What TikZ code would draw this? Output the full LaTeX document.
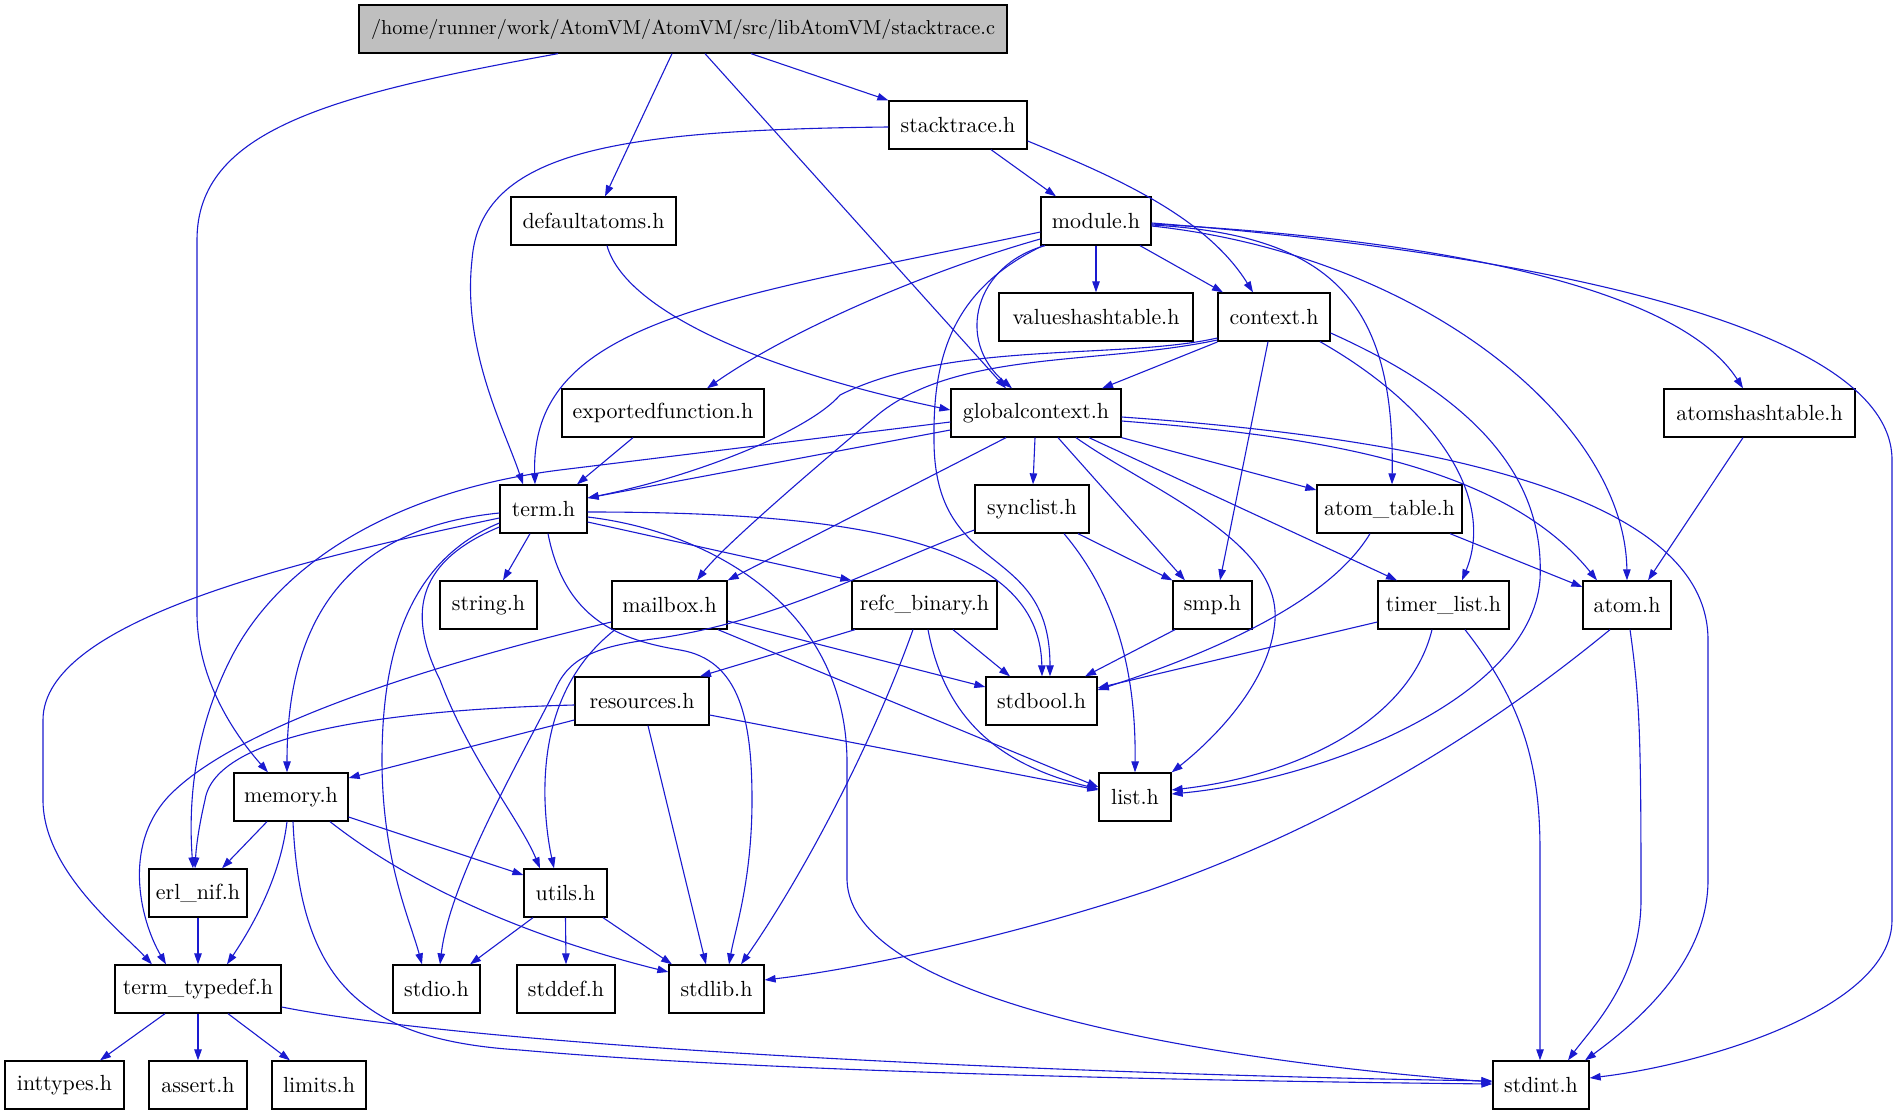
\documentclass[tikz,border=0pt]{standalone}
\usepackage{fontspec}
\setmainfont{lmroman10-regular.otf}
\usetikzlibrary{arrows.meta}
\definecolor{eb}{RGB}{26,26,208}
\definecolor{topfill}{RGB}{191,191,191}
\begin{document}
\begin{tikzpicture}[x=1pt,y=-1pt,
  box/.style={draw=black,line width=1.3pt,fill=white,minimum height=48pt,inner xsep=0pt,inner ysep=0pt,font=\fontsize{21.9pt}{26pt}\selectfont},
  edg/.style={draw=eb,line width=1.1pt,-{Triangle[length=11pt,width=7.5pt]}}]
\useasboundingbox (0,0) rectangle (1898,1115);
% nodes
\node[box,fill=topfill,minimum width=648pt,font=\fontsize{20.2pt}{24pt}\selectfont] (c) at (683,29) {/home/runner/work/AtomVM/AtomVM/src/libAtomVM/stacktrace.c};
\node[box,minimum width=138pt] (sth) at (958,125) {stacktrace.h};
\node[box,minimum width=165pt] (defa) at (593.5,221) {defaultatoms.h};
\node[box,minimum width=110pt] (module) at (1096,221) {module.h};
\node[box,minimum width=194pt] (vht) at (1096,317) {valueshashtable.h};
\node[box,minimum width=112pt] (context) at (1274,317) {context.h};
\node[box,minimum width=202pt] (expf) at (663,413) {exportedfunction.h};
\node[box,minimum width=170pt] (gc) at (1036,413) {globalcontext.h};
\node[box,minimum width=191pt] (ahs) at (1759.5,413) {atomshashtable.h};
\node[box,minimum width=87pt] (term) at (543.5,509) {term.h};
\node[box,minimum width=114pt] (synclist) at (1032,509) {synclist.h};
\node[box,minimum width=145pt] (atab) at (1389.5,509) {atom\_table.h};
\node[box,minimum width=97pt] (string) at (488.5,605) {string.h};
\node[box,minimum width=115pt] (mailbox) at (669.5,605) {mailbox.h};
\node[box,minimum width=145pt] (refc) at (924.5,605) {refc\_binary.h};
\node[box,minimum width=79pt] (smp) at (1212.5,605) {smp.h};
\node[box,minimum width=131pt] (timer) at (1443.5,605) {timer\_list.h};
\node[box,minimum width=88pt] (atom) at (1627,605) {atom.h};
\node[box,minimum width=134pt] (resources) at (642,701) {resources.h};
\node[box,minimum width=111pt] (stdbool) at (1041.5,701) {stdbool.h};
\node[box,minimum width=114pt] (memory) at (291,797) {memory.h};
\node[box,minimum width=72pt] (list) at (1135,797) {list.h};
\node[box,minimum width=98pt] (erlnif) at (198,893) {erl\_nif.h};
\node[box,minimum width=83pt] (utils) at (565.5,893) {utils.h};
\node[box,minimum width=166pt] (tt) at (198,989) {term\_typedef.h};
\node[box,minimum width=87pt] (stdio) at (436.5,989) {stdio.h};
\node[box,minimum width=98pt] (stddef) at (566,989) {stddef.h};
\node[box,minimum width=95pt] (stdlib) at (716.5,989) {stdlib.h};
\node[box,minimum width=119pt] (inttypes) at (64.5,1085) {inttypes.h};
\node[box,minimum width=98pt] (assert) at (198,1085) {assert.h};
\node[box,minimum width=94pt] (limits) at (319,1085) {limits.h};
\node[box,minimum width=96pt] (stdint) at (1541,1085) {stdint.h};
% edges from stacktrace.c
\draw[edg] (c.south -| 558,0) .. controls (330,95) and (197,130) .. (197,240) -- (197,613) .. controls (197,680) and (235,735) .. (memory.north -| 268,0);
\draw[edg] (c.south -| 672,0) -- (defa.north -| 605,0);
\draw[edg] (c.south -| 705,0) -- (gc.north -| 1006,0);
\draw[edg] (c.south -| 751,0) -- (sth.north west);
% stacktrace.h
\draw[edg] (sth.west |- 0,127) .. controls (620,130) and (480,150) .. (472,260) .. controls (462,350) and (505,430) .. (term.north -| 523,0);
\draw[edg] (sth.south -| 991,0) -- (module.north -| 1056,0);
\draw[edg] (sth.east |- 0,141) .. controls (1110,175) and (1205,215) .. (context.north -| 1253,0);
% defaultatoms.h
\draw[edg] (defa.south -| 607,0) .. controls (625,310) and (760,370) .. (gc.west |- 0,410);
% module.h
\draw[edg] (module.west |- 0,232) .. controls (720,300) and (530,320) .. (term.north -| 535,0);
\draw[edg] (module.west |- 0,239) .. controls (930,270) and (790,330) .. (expf.north -| 707,0);
\draw[edg] (module.south -| 1045,0) .. controls (975,265) and (955,340) .. (gc.north -| 1012,0);
\draw[edg] (module.south -| 1043,0) .. controls (950,290) and (933,360) .. (934,440) .. controls (934,580) and (1050,540) .. (stdbool.north -| 1050,0);
\draw[edg] (module.south) -- (vht.north);
\draw[edg] (module.south -| 1140,0) -- (context.north -| 1223,0);
\draw[edg] (module.east |- 0,225) .. controls (1330,235) and (1395,300) .. (atab.north -| 1392,0);
\draw[edg] (module.east |- 0,226) .. controls (1420,255) and (1625,420) .. (atom.north -| 1627,0);
\draw[edg] (module.east |- 0,224) .. controls (1450,240) and (1680,290) .. (ahs.north -| 1743,0);
\draw[edg] (module.east |- 0,223) .. controls (1500,250) and (1892,320) .. (1892,460) -- (1892,920) .. controls (1892,1010) and (1700,1065) .. (stdint.east |- 0,1078);
% context.h
\draw[edg] (context.west |- 0,342) -- (gc.north -| 1102,0);
\draw[edg] (context.west |- 0,338) .. controls (1120,360) and (950,340) .. (840,395) .. controls (810,430) and (700,475) .. (term.east |- 0,498);
\draw[edg] (context.west |- 0,340) .. controls (1100,365) and (960,350) .. (880,413) .. controls (800,480) and (720,550) .. (mailbox.north -| 697,0);
\draw[edg] (context.south -| 1268,0) -- (smp.north -| 1220,0);
\draw[edg] (context.east |- 0,333) .. controls (1480,400) and (1545,480) .. (1540,580) .. controls (1530,700) and (1320,780) .. (list.east |- 0,794);
\draw[edg] (context.south -| 1320,0) .. controls (1440,410) and (1495,500) .. (timer.north -| 1462,0);
% exportedfunction.h
\draw[edg] (expf.south -| 633,0) -- (term.north -| 577,0);
% globalcontext.h
\draw[edg] (gc.west |- 0,430) -- (term.east |- 0,498);
\draw[edg] (gc.west |- 0,422) -- (560,470) .. controls (400,490) and (280,560) .. (230,660) .. controls (195,730) and (188,800) .. (erlnif.north -| 193,0);
\draw[edg] (gc.south -| 1006,0) -- (mailbox.north east);
\draw[edg] (gc.south -| 1035,0) -- (synclist.north -| 1033,0);
\draw[edg] (gc.south -| 1058,0) -- (smp.north -| 1185,0);
\draw[edg] (gc.south -| 1076,0) .. controls (1150,490) and (1280,540) .. (1275,620) .. controls (1270,690) and (1200,750) .. (list.north east);
\draw[edg] (gc.south -| 1089,0) -- (timer.north -| 1397,0);
\draw[edg] (gc.south east) -- (atab.west |- 0,490);
\draw[edg] (gc.east |- 0,421) .. controls (1300,435) and (1500,460) .. (atom.north -| 1597,0);
\draw[edg] (gc.east |- 0,417) .. controls (1450,440) and (1708,500) .. (1708,640) -- (1708,880) .. controls (1708,960) and (1640,1020) .. (stdint.north -| 1585,0);
% atomshashtable.h
\draw[edg] (ahs.south -| 1743,0) -- (atom.north -| 1648,0);
% term.h
\draw[edg] (term.south -| 530,0) -- (string.north -| 503,0);
\draw[edg] (term.east |- 0,522) -- (refc.north west);
\draw[edg] (term.east |- 0,512) .. controls (850,512) and (1040,540) .. (stdbool.north -| 1042,0);
\draw[edg] (term.east |- 0,517) .. controls (700,530) and (845,600) .. (847,760) -- (847,880) .. controls (850,1000) and (1200,1060) .. (stdint.west |- 0,1082);
\draw[edg] (term.south -| 548,0) .. controls (565,620) and (620,640) .. (680,650) .. controls (740,660) and (752,720) .. (752,800) .. controls (752,880) and (735,930) .. (stdlib.north -| 729,0);
\draw[edg] (term.west |- 0,527) .. controls (420,560) and (405,610) .. (440,680) .. controls (470,760) and (520,820) .. (utils.north -| 540,0);
\draw[edg] (term.west |- 0,523) .. controls (410,560) and (382,650) .. (382,760) .. controls (382,860) and (410,920) .. (stdio.north -| 422,0);
\draw[edg] (term.west |- 0,513) .. controls (330,530) and (287,640) .. (memory.north -| 287,0);
\draw[edg] (term.west |- 0,518) .. controls (300,560) and (43,620) .. (43,720) -- (43,800) .. controls (43,870) and (120,930) .. (tt.north -| 152,0);
% synclist.h
\draw[edg] (synclist.west |- 0,530) .. controls (880,565) and (780,620) .. (660,638) .. controls (600,646) and (570,655) .. (555,690) .. controls (520,760) and (450,880) .. (stdio.north -| 440,0);
\draw[edg] (synclist.south -| 1078,0) -- (smp.north west);
\draw[edg] (synclist.south -| 1064,0) .. controls (1120,600) and (1136,680) .. (list.north);
% atom_table.h
\draw[edg] (atab.south -| 1370,0) .. controls (1330,600) and (1220,650) .. (stdbool.east |- 0,690);
\draw[edg] (atab.south -| 1450,0) -- (atom.west |- 0,587);
% mailbox.h
\draw[edg] (mailbox.west |- 0,622) .. controls (450,660) and (250,720) .. (175,790) .. controls (120,840) and (140,920) .. (tt.north -| 166,0);
\draw[edg] (mailbox.south -| 615,0) .. controls (570,665) and (543,720) .. (545,800) .. controls (546,830) and (550,850) .. (utils.north -| 554,0);
\draw[edg] (mailbox.east |- 0,621) -- (stdbool.west |- 0,687);
\draw[edg] (mailbox.south -| 718,0) -- (list.west |- 0,787);
% refc_binary.h
\draw[edg] (refc.south -| 855,0) -- (resources.north -| 700,0);
\draw[edg] (refc.south -| 953,0) -- (stdbool.north -| 1010,0);
\draw[edg] (refc.south -| 928,0) .. controls (945,720) and (1000,765) .. (list.west |- 0,789);
\draw[edg] (refc.south -| 913,0) .. controls (870,750) and (800,880) .. (stdlib.north -| 741,0);
% smp.h
\draw[edg] (smp.south -| 1175,0) -- (stdbool.north -| 1085,0);
% timer_list.h
\draw[edg] (timer.west |- 0,622) -- (stdbool.east |- 0,688);
\draw[edg] (timer.south -| 1432,0) .. controls (1410,720) and (1300,775) .. (list.east |- 0,790);
\draw[edg] (timer.south -| 1465,0) .. controls (1520,700) and (1540,760) .. (1540,850) -- (stdint.north -| 1540,0);
% atom.h
\draw[edg] (atom.south -| 1630,0) .. controls (1640,700) and (1641,740) .. (1641,900) .. controls (1641,980) and (1590,1030) .. (stdint.north -| 1568,0);
\draw[edg] (atom.south -| 1610,0) .. controls (1500,720) and (1350,820) .. (1150,890) .. controls (1000,940) and (850,970) .. (stdlib.east |- 0,980);
% resources.h
\draw[edg] (resources.west |- 0,705) .. controls (380,710) and (215,735) .. (205,800) .. controls (198,830) and (196,850) .. (erlnif.north -| 195,0);
\draw[edg] (resources.west |- 0,720) -- (memory.east |- 0,778);
\draw[edg] (resources.east |- 0,715) -- (list.west |- 0,790);
\draw[edg] (resources.south -| 648,0) -- (stdlib.north -| 706,0);
% memory.h
\draw[edg] (memory.south -| 267,0) -- (erlnif.north -| 222,0);
\draw[edg] (memory.south -| 287,0) .. controls (280,880) and (250,930) .. (tt.north -| 227,0);
\draw[edg] (memory.east |- 0,817) -- (utils.west |- 0,875);
\draw[edg] (memory.south -| 330,0) .. controls (430,900) and (560,945) .. (stdlib.west |- 0,972);
\draw[edg] (memory.south -| 293,0) .. controls (300,980) and (360,1040) .. (520,1050) .. controls (800,1075) and (1300,1082) .. (stdint.west |- 0,1084);
% erl_nif.h
\draw[edg] (erlnif.south) -- (tt.north);
% utils.h
\draw[edg] (utils.south -| 533,0) -- (stdio.north -| 470,0);
\draw[edg] (utils.south) -- (stddef.north);
\draw[edg] (utils.south -| 603,0) -- (stdlib.north -| 672,0);
% term_typedef.h
\draw[edg] (tt.south -| 165,0) -- (inttypes.north -| 100,0);
\draw[edg] (tt.south) -- (assert.north);
\draw[edg] (tt.south -| 228,0) -- (limits.north -| 290,0);
\draw[edg] (tt.east |- 0,1007) .. controls (500,1050) and (1100,1075) .. (stdint.west |- 0,1081);
\end{tikzpicture}
\end{document}
